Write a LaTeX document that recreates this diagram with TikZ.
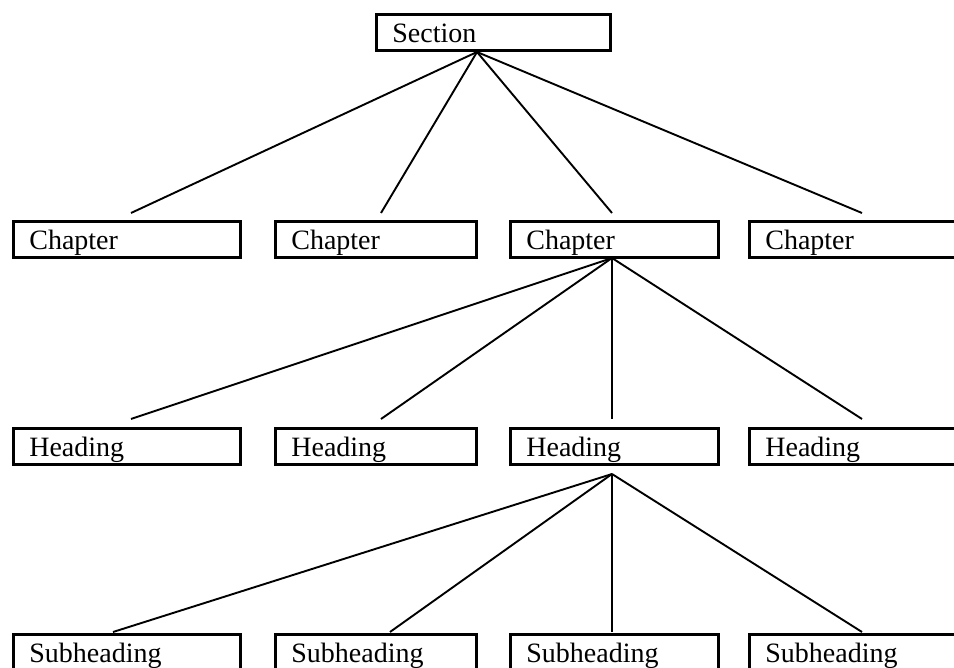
\documentclass[tikz,border=0pt]{standalone}
\usepackage{fontspec}
\setmainfont{Liberation Serif}
\begin{document}
\begin{tikzpicture}[x=0.5pt,y=-0.5pt,
  box/.style={draw, line width=1.35pt, rectangle, anchor=north west,
    inner xsep=8pt, inner ysep=0pt, minimum height=18.25pt,
    text height=11pt, text depth=1pt, align=left,
    font=\fontsize{14pt}{16pt}\selectfont},
  wsec/.style={text width=101pt},
  wa/.style={text width=97.5pt},
  wb/.style={text width=84.5pt},
  wc/.style={text width=88pt},
  wd/.style={text width=109pt},
  conn/.style={line width=0.95pt}]
\useasboundingbox (0,0) rectangle (954,668);
\clip (0,0) rectangle (954,668);
% boxes
\node[box,wsec] (sec) at (375,13) {Section};
\node[box,wa] (c1) at (12,220) {Chapter};
\node[box,wb] (c2) at (274,220) {Chapter};
\node[box,wc] (c3) at (509,220) {Chapter};
\node[box,wd] (c4) at (748,220) {Chapter};
\node[box,wa] (h1) at (12,427) {Heading};
\node[box,wb] (h2) at (274,427) {Heading};
\node[box,wc] (h3) at (509,427) {Heading};
\node[box,wd] (h4) at (748,427) {Heading};
\node[box,wa] (s1) at (12,633) {Subheading};
\node[box,wb] (s2) at (274,633) {Subheading};
\node[box,wc] (s3) at (509,633) {Subheading};
\node[box,wd] (s4) at (748,633) {Subheading};
% connector end points
\coordinate (secA) at (477,52);
\coordinate (c1t) at (131,213);
\coordinate (c2t) at (381,213);
\coordinate (c3t) at (612,213);
\coordinate (c4t) at (862,213);
\coordinate (c3A) at (612,258);
\coordinate (h1t) at (131,419);
\coordinate (h2t) at (381,419);
\coordinate (h3t) at (612,419);
\coordinate (h4t) at (862,419);
\coordinate (h3A) at (612,474);
\coordinate (s1t) at (113,632);
\coordinate (s2t) at (390,632);
\coordinate (s3t) at (612,632);
\coordinate (s4t) at (862,632);
% connectors
\foreach \t in {c1t,c2t,c3t,c4t} \draw[conn] (secA) -- (\t);
\foreach \t in {h1t,h2t,h3t,h4t} \draw[conn] (c3A) -- (\t);
\foreach \t in {s1t,s2t,s3t,s4t} \draw[conn] (h3A) -- (\t);
\end{tikzpicture}
\end{document}
